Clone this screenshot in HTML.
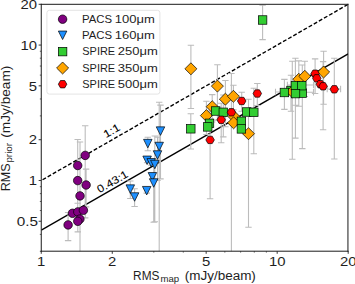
<!DOCTYPE html>
<html><head><meta charset="utf-8"><style>html,body{margin:0;padding:0;background:#fff;width:355px;height:284px;overflow:hidden}</style></head>
<body><svg width="355" height="284" viewBox="0 0 355 284" style="display:block">
<defs><clipPath id="ax"><rect x="41.25" y="4.3" width="306.95" height="247"/></clipPath></defs>
<rect width="355" height="284" fill="#fff"/>
<g clip-path="url(#ax)">
<line x1="41.25" y1="180.49" x2="348.20" y2="4.30" stroke="#000" stroke-width="1.4" stroke-dasharray="3.9,2.0" stroke-dashoffset="4.4"/>
<line x1="41.25" y1="230.13" x2="348.20" y2="53.94" stroke="#000" stroke-width="1.5"/>
<path d="M85.20,125.80V217.84M82.00,125.80H88.40M82.00,217.84H88.40M77.70,139.50V213.24M74.50,139.50H80.90M74.50,213.24H80.90M77.70,164.26V203.30M74.50,164.26H80.90M74.50,203.30H80.90M86.10,169.10V206.86M82.90,169.10H89.30M82.90,206.86H89.30M80.00,142.00V260.00M76.80,142.00H83.20M72.50,210.99V215.70M69.30,210.99H75.70M69.30,215.70H75.70M77.80,209.59V214.30M74.60,209.59H81.00M74.60,214.30H81.00M83.40,207.99V212.70M80.20,207.99H86.60M80.20,212.70H86.60M79.90,216.79V221.50M76.70,216.79H83.10M76.70,221.50H83.10M77.80,212.32V231.90M74.60,212.32H81.00M74.60,231.90H81.00M68.10,212.52V240.60M64.90,212.52H71.30M64.90,240.60H71.30M160.50,105.10V178.84M157.30,105.10H163.70M157.30,178.84H163.70M147.80,137.20V150.78M144.60,137.20H151.00M144.60,150.78H151.00M159.20,102.30V260.00M156.00,102.30H162.40M157.50,137.30V180.44M154.30,137.30H160.70M154.30,180.44H160.70M147.10,157.99V162.70M143.90,157.99H150.30M143.90,162.70H150.30M151.20,160.49V165.20M148.00,160.49H154.40M148.00,165.20H154.40M154.80,136.03V221.80M151.60,136.03H158.00M151.60,221.80H158.00M152.40,174.49V179.20M149.20,174.49H155.60M149.20,179.20H155.60M153.70,159.68V222.20M150.50,159.68H156.90M150.50,222.20H156.90M146.70,188.39V193.10M143.50,188.39H149.90M143.50,193.10H149.90M130.30,181.00V198.50M127.10,181.00H133.50M127.10,198.50H133.50M134.60,188.82V206.50M131.40,188.82H137.80M131.40,206.50H137.80M262.60,5.30V39.64M259.40,5.30H265.80M259.40,39.64H265.80M190.80,113.80V148.99M187.60,113.80H194.00M187.60,148.99H194.00M215.70,108.69V113.40M212.50,108.69H218.90M212.50,113.40H218.90M223.30,95.01V136.90M220.10,95.01H226.50M220.10,136.90H226.50M209.50,120.99V125.70M206.30,120.99H212.70M206.30,125.70H212.70M207.70,124.59V129.30M204.50,124.59H210.90M204.50,129.30H210.90M241.40,118.99V123.70M238.20,118.99H244.60M238.20,123.70H244.60M241.40,126.59V131.30M238.20,126.59H244.60M238.20,131.30H244.60M246.80,109.69V114.40M243.60,109.69H250.00M243.60,114.40H250.00M253.80,88.21V153.80M250.60,88.21H257.00M250.60,153.80H257.00M284.40,79.40V109.38M281.20,79.40H287.60M281.20,109.38H287.60M291.00,75.20V111.24M287.80,75.20H294.20M287.80,111.24H294.20M295.40,58.30V138.14M292.20,58.30H298.60M292.20,138.14H298.60M301.80,83.39V88.10M298.60,83.39H305.00M298.60,88.10H305.00M295.50,83.92V105.20M292.30,83.92H298.70M292.30,105.20H298.70M302.30,65.06V148.60M299.10,65.06H305.50M299.10,148.60H305.50M190.90,45.30V108.54M187.70,45.30H194.10M187.70,108.54H194.10M217.40,64.70V120.08M214.20,64.70H220.60M214.20,120.08H220.60M225.40,80.50V126.78M222.20,80.50H228.60M222.20,126.78H228.60M233.40,85.30V109.84M230.20,85.30H236.60M230.20,109.84H236.60M212.20,94.60V121.95M209.00,94.60H215.40M209.00,121.95H215.40M206.40,101.30V134.53M203.20,101.30H209.60M203.20,134.53H209.60M234.00,114.29V119.00M230.80,114.29H237.20M230.80,119.00H237.20M233.60,120.49V125.20M230.40,120.49H236.80M230.40,125.20H236.80M248.50,99.25V227.30M245.30,99.25H251.70M245.30,227.30H251.70M298.80,60.90V106.22M295.60,60.90H302.00M295.60,106.22H302.00M304.80,61.30V96.49M301.60,61.30H308.00M301.60,96.49H308.00M323.60,51.30V104.23M320.40,51.30H326.80M320.40,104.23H326.80M292.30,61.20V159.30M289.10,61.20H295.50M289.10,159.30H295.50M241.70,92.30V111.21M238.50,92.30H244.90M238.50,111.21H244.90M257.30,83.50V105.56M254.10,83.50H260.50M254.10,105.56H260.50M231.40,73.50V260.00M228.20,73.50H234.60M221.20,103.31V142.80M218.00,103.31H224.40M218.00,142.80H224.40M210.10,111.09V198.70M206.90,111.09H213.30M206.90,198.70H213.30M315.10,58.90V93.52M311.90,58.90H318.30M311.90,93.52H318.30M316.80,75.99V80.70M313.60,75.99H320.00M313.60,80.70H320.00M320.30,81.89V86.60M317.10,81.89H323.50M317.10,86.60H323.50M323.10,61.60V129.70M319.90,61.60H326.30M319.90,129.70H326.30M334.30,58.30V158.94M331.10,58.30H337.50M331.10,158.94H337.50M327.20,89.00H340.60M327.20,85.80V92.20M340.60,85.80V92.20M287.40,85.00H313.50M287.40,81.80V88.20M313.50,81.80V88.20M290.00,92.30H313.50M290.00,89.10V95.50M313.50,89.10V95.50M275.50,92.00H292.60M275.50,88.80V95.20M292.60,88.80V95.20" stroke="#bcbcbc" stroke-width="1.1" fill="none"/>
<g stroke="#000" stroke-width="0.7">
<circle cx="85.20" cy="155.40" r="4.25" fill="#800080"/>
<circle cx="77.70" cy="165.50" r="4.25" fill="#800080"/>
<circle cx="77.70" cy="180.60" r="4.25" fill="#800080"/>
<circle cx="86.10" cy="185.00" r="4.25" fill="#800080"/>
<circle cx="80.00" cy="195.90" r="4.25" fill="#800080"/>
<circle cx="72.50" cy="213.30" r="4.25" fill="#800080"/>
<circle cx="77.80" cy="211.90" r="4.25" fill="#800080"/>
<circle cx="83.40" cy="210.30" r="4.25" fill="#800080"/>
<circle cx="79.90" cy="219.10" r="4.25" fill="#800080"/>
<circle cx="77.80" cy="221.30" r="4.25" fill="#800080"/>
<circle cx="68.10" cy="224.90" r="4.25" fill="#800080"/>
<path d="M156.25,126.85L164.75,126.85L160.50,135.35Z" fill="#1e90ff"/>
<path d="M143.55,139.35L152.05,139.35L147.80,147.85Z" fill="#1e90ff"/>
<path d="M154.95,142.25L163.45,142.25L159.20,150.75Z" fill="#1e90ff"/>
<path d="M153.25,150.75L161.75,150.75L157.50,159.25Z" fill="#1e90ff"/>
<path d="M142.85,156.05L151.35,156.05L147.10,164.55Z" fill="#1e90ff"/>
<path d="M146.95,158.55L155.45,158.55L151.20,167.05Z" fill="#1e90ff"/>
<path d="M150.55,160.25L159.05,160.25L154.80,168.75Z" fill="#1e90ff"/>
<path d="M148.15,172.55L156.65,172.55L152.40,181.05Z" fill="#1e90ff"/>
<path d="M149.45,178.75L157.95,178.75L153.70,187.25Z" fill="#1e90ff"/>
<path d="M142.45,186.45L150.95,186.45L146.70,194.95Z" fill="#1e90ff"/>
<path d="M126.05,184.85L134.55,184.85L130.30,193.35Z" fill="#1e90ff"/>
<path d="M130.35,192.75L138.85,192.75L134.60,201.25Z" fill="#1e90ff"/>
<rect x="286.75" y="86.25" width="8.50" height="8.50" fill="#32cd32"/>
<path d="M190.90,62.79L196.91,68.80L190.90,74.81L184.89,68.80Z" fill="#ffa500"/>
<path d="M217.40,80.09L223.41,86.10L217.40,92.11L211.39,86.10Z" fill="#ffa500"/>
<path d="M225.40,93.19L231.41,99.20L225.40,105.21L219.39,99.20Z" fill="#ffa500"/>
<path d="M233.40,90.29L239.41,96.30L233.40,102.31L227.39,96.30Z" fill="#ffa500"/>
<path d="M212.20,100.69L218.21,106.70L212.20,112.71L206.19,106.70Z" fill="#ffa500"/>
<path d="M206.40,109.59L212.41,115.60L206.40,121.61L200.39,115.60Z" fill="#ffa500"/>
<path d="M234.00,110.59L240.01,116.60L234.00,122.61L227.99,116.60Z" fill="#ffa500"/>
<path d="M233.60,116.79L239.61,122.80L233.60,128.81L227.59,122.80Z" fill="#ffa500"/>
<path d="M248.50,127.69L254.51,133.70L248.50,139.71L242.49,133.70Z" fill="#ffa500"/>
<path d="M298.80,73.29L304.81,79.30L298.80,85.31L292.79,79.30Z" fill="#ffa500"/>
<path d="M304.80,70.29L310.81,76.30L304.80,82.31L298.79,76.30Z" fill="#ffa500"/>
<path d="M323.60,65.99L329.61,72.00L323.60,78.01L317.59,72.00Z" fill="#ffa500"/>
<path d="M292.30,85.79L298.31,91.80L292.30,97.81L286.29,91.80Z" fill="#ffa500"/>
<rect x="298.05" y="88.85" width="8.50" height="8.50" fill="#32cd32"/>
<rect x="258.35" y="15.75" width="8.50" height="8.50" fill="#32cd32"/>
<rect x="186.55" y="124.55" width="8.50" height="8.50" fill="#32cd32"/>
<rect x="211.45" y="106.75" width="8.50" height="8.50" fill="#32cd32"/>
<rect x="219.05" y="108.05" width="8.50" height="8.50" fill="#32cd32"/>
<rect x="205.25" y="119.05" width="8.50" height="8.50" fill="#32cd32"/>
<rect x="203.45" y="122.65" width="8.50" height="8.50" fill="#32cd32"/>
<rect x="237.15" y="117.05" width="8.50" height="8.50" fill="#32cd32"/>
<rect x="237.15" y="124.65" width="8.50" height="8.50" fill="#32cd32"/>
<rect x="242.55" y="107.75" width="8.50" height="8.50" fill="#32cd32"/>
<rect x="249.55" y="108.05" width="8.50" height="8.50" fill="#32cd32"/>
<rect x="280.15" y="88.25" width="8.50" height="8.50" fill="#32cd32"/>
<rect x="291.15" y="81.35" width="8.50" height="8.50" fill="#32cd32"/>
<rect x="297.55" y="81.45" width="8.50" height="8.50" fill="#32cd32"/>
<rect x="291.25" y="89.35" width="8.50" height="8.50" fill="#32cd32"/>
<polygon points="245.95,101.00 243.83,104.68 239.58,104.68 237.45,101.00 239.58,97.32 243.83,97.32" fill="#ff0000"/>
<polygon points="261.55,93.50 259.43,97.18 255.18,97.18 253.05,93.50 255.18,89.82 259.43,89.82" fill="#ff0000"/>
<polygon points="235.65,112.30 233.53,115.98 229.28,115.98 227.15,112.30 229.28,108.62 233.53,108.62" fill="#ff0000"/>
<polygon points="225.45,119.80 223.33,123.48 219.08,123.48 216.95,119.80 219.08,116.12 223.33,116.12" fill="#ff0000"/>
<polygon points="214.35,139.90 212.23,143.58 207.98,143.58 205.85,139.90 207.98,136.22 212.23,136.22" fill="#ff0000"/>
<polygon points="319.35,73.70 317.23,77.38 312.98,77.38 310.85,73.70 312.98,70.02 317.23,70.02" fill="#ff0000"/>
<polygon points="321.05,78.30 318.93,81.98 314.68,81.98 312.55,78.30 314.68,74.62 318.93,74.62" fill="#ff0000"/>
<polygon points="324.55,84.20 322.43,87.88 318.18,87.88 316.05,84.20 318.18,80.52 322.43,80.52" fill="#ff0000"/>
<polygon points="327.35,86.30 325.23,89.98 320.98,89.98 318.85,86.30 320.98,82.62 325.23,82.62" fill="#ff0000"/>
<polygon points="338.55,89.30 336.43,92.98 332.18,92.98 330.05,89.30 332.18,85.62 336.43,85.62" fill="#ff0000"/>
</g>
</g>
<path d="M41.25,3.8V251.7M40.75,251.2H348.5M347.95,251.7V3.8M40.75,4.3H348.5" fill="none" stroke="#1a1a1a" stroke-width="1.0"/>
<path d="M41.25,251.2V253.79999999999998" stroke="#222" stroke-width="0.9"/>
<path d="M112.27,251.2V253.79999999999998" stroke="#222" stroke-width="0.9"/>
<path d="M206.16,251.2V253.79999999999998" stroke="#222" stroke-width="0.9"/>
<path d="M277.18,251.2V253.79999999999998" stroke="#222" stroke-width="0.9"/>
<path d="M348.20,251.2V253.79999999999998" stroke="#222" stroke-width="0.9"/>
<path d="M153.82,251.2V252.6" stroke="#222" stroke-width="0.7"/>
<path d="M183.29,251.2V252.6" stroke="#222" stroke-width="0.7"/>
<path d="M224.84,251.2V252.6" stroke="#222" stroke-width="0.7"/>
<path d="M240.63,251.2V252.6" stroke="#222" stroke-width="0.7"/>
<path d="M254.31,251.2V252.6" stroke="#222" stroke-width="0.7"/>
<path d="M266.38,251.2V252.6" stroke="#222" stroke-width="0.7"/>
<path d="M41.25,221.26H38.65" stroke="#222" stroke-width="0.9"/>
<path d="M41.25,180.49H38.65" stroke="#222" stroke-width="0.9"/>
<path d="M41.25,139.72H38.65" stroke="#222" stroke-width="0.9"/>
<path d="M41.25,85.83H38.65" stroke="#222" stroke-width="0.9"/>
<path d="M41.25,45.07H38.65" stroke="#222" stroke-width="0.9"/>
<path d="M41.25,4.30H38.65" stroke="#222" stroke-width="0.9"/>
<path d="M41.25,251.30H39.85" stroke="#222" stroke-width="0.7"/>
<path d="M41.25,234.38H39.85" stroke="#222" stroke-width="0.7"/>
<path d="M41.25,210.53H39.85" stroke="#222" stroke-width="0.7"/>
<path d="M41.25,201.47H39.85" stroke="#222" stroke-width="0.7"/>
<path d="M41.25,193.61H39.85" stroke="#222" stroke-width="0.7"/>
<path d="M41.25,186.69H39.85" stroke="#222" stroke-width="0.7"/>
<path d="M41.25,115.88H39.85" stroke="#222" stroke-width="0.7"/>
<path d="M41.25,98.96H39.85" stroke="#222" stroke-width="0.7"/>
<path d="M41.25,75.11H39.85" stroke="#222" stroke-width="0.7"/>
<path d="M41.25,66.04H39.85" stroke="#222" stroke-width="0.7"/>
<path d="M41.25,58.19H39.85" stroke="#222" stroke-width="0.7"/>
<path d="M41.25,51.26H39.85" stroke="#222" stroke-width="0.7"/>
<g font-family="'Liberation Sans', sans-serif" fill="#1e1e1e">
<text x="37.12" y="265.60" font-size="13.0" textLength="8.27" lengthAdjust="spacingAndGlyphs" >1</text>
<text x="108.14" y="265.60" font-size="13.0" textLength="8.27" lengthAdjust="spacingAndGlyphs" >2</text>
<text x="202.02" y="265.60" font-size="13.0" textLength="8.27" lengthAdjust="spacingAndGlyphs" >5</text>
<text x="268.91" y="265.60" font-size="13.0" textLength="16.54" lengthAdjust="spacingAndGlyphs" >10</text>
<text x="339.93" y="265.60" font-size="13.0" textLength="16.54" lengthAdjust="spacingAndGlyphs" >20</text>
<text x="16.83" y="225.96" font-size="13.0" textLength="21.29" lengthAdjust="spacingAndGlyphs" >0.5</text>
<text x="28.73" y="185.19" font-size="13.0" textLength="8.27" lengthAdjust="spacingAndGlyphs" >1</text>
<text x="28.73" y="144.42" font-size="13.0" textLength="8.27" lengthAdjust="spacingAndGlyphs" >2</text>
<text x="28.73" y="90.53" font-size="13.0" textLength="8.27" lengthAdjust="spacingAndGlyphs" >5</text>
<text x="20.46" y="49.77" font-size="13.0" textLength="16.54" lengthAdjust="spacingAndGlyphs" >10</text>
<text x="20.46" y="9.00" font-size="13.0" textLength="16.54" lengthAdjust="spacingAndGlyphs" >20</text>
<text x="133.10" y="279.80" font-size="12.0" textLength="26.33" lengthAdjust="spacingAndGlyphs" >RMS</text>
<text x="160.50" y="281.60" font-size="8.4" textLength="18.68" lengthAdjust="spacingAndGlyphs" >map</text>
<text x="184.70" y="279.80" font-size="12.0" textLength="71.18" lengthAdjust="spacingAndGlyphs" >(mJy/beam)</text>
<g transform="translate(9.9,191.3) rotate(-90)">
<text x="0.00" y="0.00" font-size="12.0" textLength="27.91" lengthAdjust="spacingAndGlyphs" >RMS</text>
<text x="28.70" y="1.80" font-size="8.4" textLength="19.74" lengthAdjust="spacingAndGlyphs" >prior</text>
<text x="53.50" y="0.00" font-size="12.0" textLength="72.22" lengthAdjust="spacingAndGlyphs" >(mJy/beam)</text>
</g>
<g transform="translate(111.7,130.8) rotate(-29.86)" fill="#000" stroke="#000" stroke-width="0.05"><text x="-8.53" y="3.60" font-size="10.6" textLength="17.06" lengthAdjust="spacingAndGlyphs" >1:1</text></g>
<g transform="translate(112.5,181.7) rotate(-29.86)" fill="#000" stroke="#000" stroke-width="0.05"><text x="-16.95" y="3.60" font-size="10.6" textLength="33.91" lengthAdjust="spacingAndGlyphs" >0.43:1</text></g>
</g>
<rect x="46.9" y="10.3" width="113" height="83.8" rx="2.5" fill="#fff" stroke="#e4e4e4" stroke-width="1"/>
<g font-family="'Liberation Sans', sans-serif" fill="#1e1e1e">
<g stroke="#000" stroke-width="0.7" stroke-opacity="1"><circle cx="62.60" cy="19.20" r="4.25" fill="#800080"/></g>
<text x="81.90" y="22.80" font-size="11" textLength="30.12" lengthAdjust="spacingAndGlyphs">PACS</text>
<text x="114.81" y="22.80" font-size="11" textLength="40.05" lengthAdjust="spacingAndGlyphs">100μm</text>
<g stroke="#000" stroke-width="0.7" stroke-opacity="1"><path d="M58.35,31.05L66.85,31.05L62.60,39.55Z" fill="#1e90ff"/></g>
<text x="81.90" y="38.90" font-size="11" textLength="30.12" lengthAdjust="spacingAndGlyphs">PACS</text>
<text x="114.81" y="38.90" font-size="11" textLength="40.05" lengthAdjust="spacingAndGlyphs">160μm</text>
<g stroke="#000" stroke-width="0.7" stroke-opacity="1"><rect x="58.35" y="47.35" width="8.50" height="8.50" fill="#32cd32"/></g>
<text x="82.30" y="55.20" font-size="11" textLength="32.89" lengthAdjust="spacingAndGlyphs">SPIRE</text>
<text x="117.86" y="55.20" font-size="11" textLength="40.05" lengthAdjust="spacingAndGlyphs">250μm</text>
<g stroke="#000" stroke-width="0.7" stroke-opacity="1"><path d="M62.60,61.99L68.61,68.00L62.60,74.01L56.59,68.00Z" fill="#ffa500"/></g>
<text x="82.30" y="71.60" font-size="11" textLength="32.89" lengthAdjust="spacingAndGlyphs">SPIRE</text>
<text x="117.86" y="71.60" font-size="11" textLength="40.05" lengthAdjust="spacingAndGlyphs">350μm</text>
<g stroke="#000" stroke-width="0.7" stroke-opacity="1"><polygon points="66.85,84.20 64.73,87.88 60.48,87.88 58.35,84.20 60.48,80.52 64.73,80.52" fill="#ff0000"/></g>
<text x="82.30" y="87.80" font-size="11" textLength="32.89" lengthAdjust="spacingAndGlyphs">SPIRE</text>
<text x="117.86" y="87.80" font-size="11" textLength="40.05" lengthAdjust="spacingAndGlyphs">500μm</text>
</g>
</svg></body></html>
